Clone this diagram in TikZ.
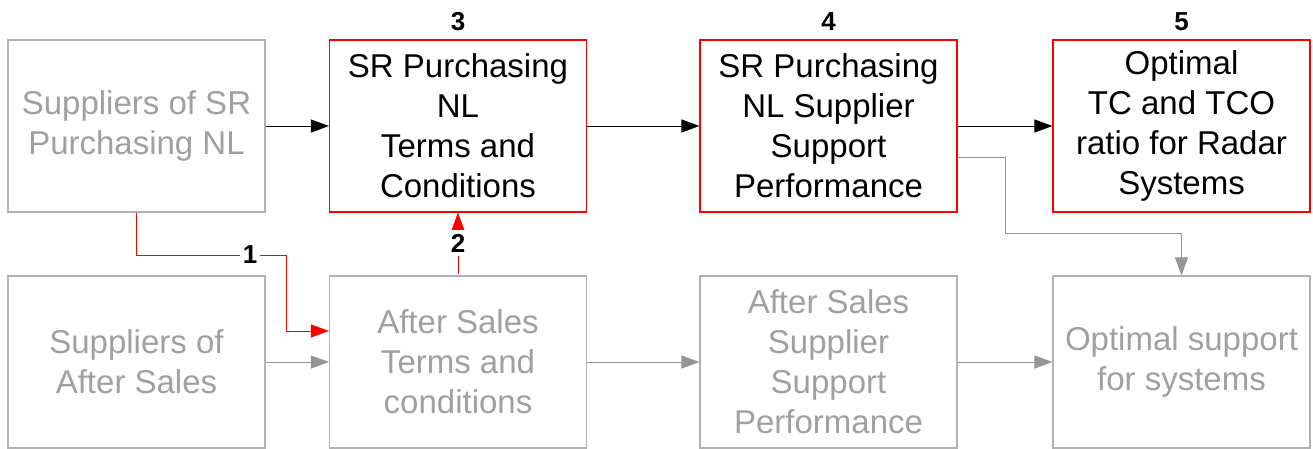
\documentclass[tikz,border=0pt]{standalone}
\usepackage{fontspec}
\setmainfont{Liberation Sans}
\usetikzlibrary{arrows.meta}
\definecolor{fadetext}{RGB}{160,160,160}
\definecolor{fadeline}{RGB}{178,178,178}
\definecolor{fadearrow}{RGB}{150,150,150}
\definecolor{hot}{RGB}{255,0,0}
\tikzset{
  box/.style={draw, line width=1.1pt, minimum width=257pt, minimum height=172pt,
    align=center, inner sep=0pt, font=\fontsize{33}{40}\selectfont},
  dimbox/.style={box, draw=fadeline, text=fadetext},
  keybox/.style={box, draw=hot, text=black},
  num/.style={font=\fontsize{26}{30}\selectfont\bfseries, inner sep=2pt},
  tip/.style={-{Triangle[length=18pt,width=13pt]}},
  blackarrow/.style={tip, line width=1pt, draw=black},
  grayarrow/.style={tip, line width=1pt, draw=fadearrow},
  redarrow/.style={tip, line width=1pt, draw=hot}
}
\begin{document}
\begin{tikzpicture}[x=1pt,y=-1pt]
\useasboundingbox (0,0) rectangle (1313,448);
% upper row
\node[dimbox] (b1) at (136.5,126) {Suppliers of SR\\Purchasing NL};
\node[keybox] (b2) at (458,126) {SR Purchasing\\NL\\Terms and\\Conditions};
\node[keybox] (b3) at (828.5,126) {SR Purchasing\\NL Supplier\\Support\\Performance};
\node[keybox] (b5) at (1181.5,126) {Optimal\\TC and TCO\\ratio for Radar\\Systems};
% lower row
\node[dimbox] (b1b) at (136.5,362) {Suppliers of\\After Sales};
\node[dimbox] (b2b) at (458,362) {After Sales\\Terms and\\conditions};
\node[dimbox] (b3b) at (828.5,362) {After Sales\\Supplier\\Support\\Performance};
\node[dimbox] (b5b) at (1181.5,362) {Optimal support\\for systems};
% step numbers
\node[num] (n3) at (458,22) {3};
\node[num] (n4) at (828.5,22) {4};
\node[num] (n5) at (1181.5,22) {5};
% upper flow
\draw[blackarrow] (b1) -- (b2);
\draw[blackarrow] (b2) -- (b3);
\draw[blackarrow] (b3) -- (b5);
% lower flow
\draw[grayarrow] (b1b) -- (b2b);
\draw[grayarrow] (b2b) -- (b3b);
\draw[grayarrow] (b3b) -- (b5b);
% cross links
\coordinate (k1) at (286,255);
\draw[redarrow] (b1.south) |- (k1) |- ([yshift=31pt]b2b.west);
\node[num, fill=white, inner sep=3pt] (n1) at (250,255) {1};
\draw[redarrow] ([yshift=1pt]b2b.north) -- (b2.south);
\node[num, fill=white, inner sep=4pt] (n2) at (458,243) {2};
\coordinate (k2) at (1005,233);
\draw[grayarrow] ([yshift=-31pt]b3.east) -| (k2) -| (b5b.north);
\end{tikzpicture}
\end{document}
